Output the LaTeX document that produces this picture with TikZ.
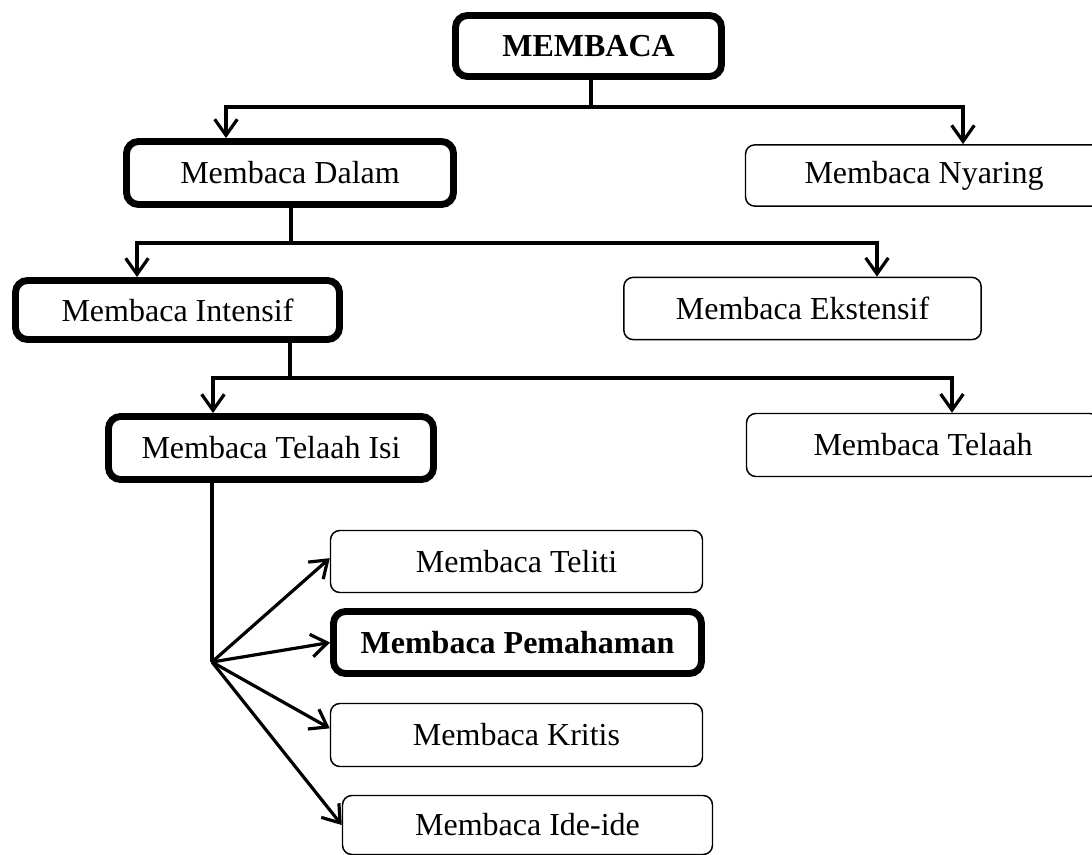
\documentclass[tikz,border=0pt]{standalone}
\usepackage{fontspec}
\setmainfont{Liberation Serif}
\usetikzlibrary{arrows.meta}
\begin{document}
\begin{tikzpicture}[x=0.75pt,y=-0.75pt,
  box/.style={draw, rounded corners=7pt, line width=1.1pt, inner sep=0pt,
    font=\fontsize{24}{28}\selectfont, anchor=center},
  bbox/.style={box, line width=5.2pt, rounded corners=9pt},
  stem/.style={line width=3.4pt},
  arr/.style={line width=2.4pt, -{Straight Barb[length=12pt,width=17pt]}},
]
\path[use as bounding box, clip] (0,0) rectangle (1092,855);

% nodes
\node[bbox, minimum width=199.5pt, minimum height=45.75pt] (m) at (588.5,46) {\textbf{MEMBACA}};
\node[bbox, minimum width=245.25pt, minimum height=47.25pt] (dalam) at (290,173) {Membaca Dalam};
\node[box, minimum width=267.75pt, minimum height=46pt] (nyaring) at (924,175.5) {Membaca Nyaring};
\node[bbox, minimum width=243pt, minimum height=44.25pt] (intensif) at (177.5,310) {Membaca Intensif};
\node[box, minimum width=268pt, minimum height=46.7pt] (ekstensif) at (802.5,308.5) {Membaca Ekstensif};
\node[bbox, minimum width=243.75pt, minimum height=47.25pt] (telaahisi) at (271,448) {Membaca Telaah Isi};
\node[box, minimum width=264.75pt, minimum height=47.25pt] (telaah) at (923,445) {Membaca Telaah};
\node[box, minimum width=279pt, minimum height=46.5pt] (teliti) at (516.5,561.5) {Membaca Teliti};
\node[bbox, minimum width=276pt, minimum height=46.5pt] (pemahaman) at (517.5,642.5) {\textbf{Membaca Pemahaman}};
\node[box, minimum width=279pt, minimum height=47.25pt] (kritis) at (516.5,735) {Membaca Kritis};
\node[box, minimum width=277.5pt, minimum height=44.25pt] (ide) at (527.5,825) {Membaca Ide-ide};

% level 1
\coordinate (j1) at (591,107);
\coordinate (a1) at (226,107);
\coordinate (a2) at (963,107);
\draw[stem] (m.south -| j1) -- (j1);
\draw[arr] (j1) -| (a1 |- dalam.north);
\draw[arr] (j1) -| (a2 |- nyaring.north);

% level 2
\coordinate (j2) at (291,243);
\coordinate (b1) at (137,243);
\coordinate (b2) at (877,243);
\draw[stem] (dalam.south -| j2) -- (j2);
\draw[arr] (j2) -| (b1 |- intensif.north);
\draw[arr] (j2) -| (b2 |- ekstensif.north);

% level 3
\coordinate (j3) at (290,378);
\coordinate (c1) at (213,378);
\coordinate (c2) at (952,378);
\draw[stem] (intensif.south -| j3) -- (j3);
\draw[arr] (j3) -| (c1 |- telaahisi.north);
\draw[arr] (j3) -| (c2 |- telaah.north);

% level 4 fan
\coordinate (f) at (212,662);
\draw[stem] (telaahisi.south -| f) -- (f);
\draw[arr] (f) -- ([yshift=2.5pt]teliti.west);
\draw[arr] (f) -- (pemahaman.west);
\draw[arr] (f) -- ([yshift=5pt]kritis.west);
\draw[arr] (f) -- (ide.west);
\end{tikzpicture}
\end{document}
